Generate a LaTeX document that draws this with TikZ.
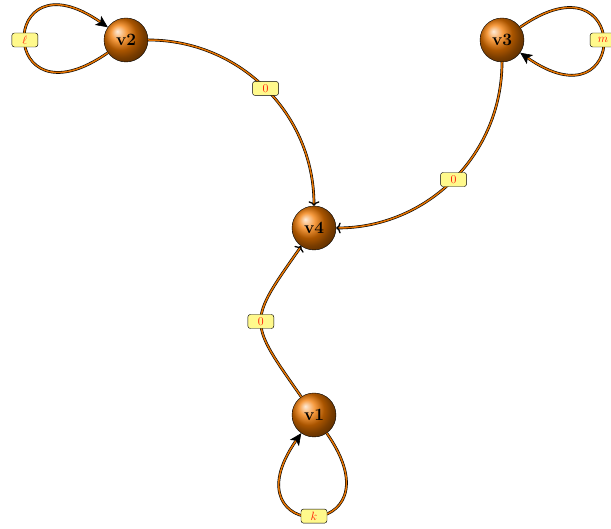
\documentclass[tikz,border=0pt]{standalone}
\usetikzlibrary{arrows.meta,shadings}
\begin{document}
\begin{tikzpicture}[x=1pt,y=1pt,
  vtx/.style={circle,draw=black,line width=0.4pt,ball color=orange!95!black,minimum size=44pt,inner sep=0pt,font=\LARGE\bfseries},
  lbl/.style={fill=yellow!45,draw=black,line width=0.45pt,rounded corners=2.5pt,text=red!85!orange,font=\large,minimum width=26pt,minimum height=14pt,inner sep=1.5pt},
  edg/.style={draw=black,line width=0.6pt,double=orange!90!black,double distance=1.5pt,-{To[length=4.5pt,width=11pt,line width=1.3pt,color=black]}},
  lp/.style={draw=black,line width=0.6pt,double=orange!90!black,double distance=1.5pt,-{Stealth[length=12pt,width=11pt,inset=3pt,color=black]}}]
\useasboundingbox (0,0) rectangle (611,529);
\node[vtx] (v1) at (314,114) {v1};
\node[vtx] (v2) at (126,489) {v2};
\node[vtx] (v3) at (502,489) {v3};
\node[vtx] (v4) at (314,301) {v4};
\draw[edg] (v2) to[out=0,in=90] node[lbl,pos=0.5] {0} (v4);
\draw[edg] (v3) to[out=-90,in=0] node[lbl,pos=0.5] {0} (v4);
\draw[edg] (v1) to[out=125,in=235,looseness=1.6] node[lbl,pos=0.5] {0} (v4);
\draw[lp] (v2.215) .. controls +(215:135) and +(145:135) .. node[lbl,pos=0.5] {$\ell$} (v2.145);
\draw[lp] (v3.35) .. controls +(35:135) and +(-35:135) .. node[lbl,pos=0.5] {$m$} (v3.-35);
\draw[lp] (v1.-55) .. controls +(-55:135) and +(235:135) .. node[lbl,pos=0.5] {$k$} (v1.235);
\end{tikzpicture}
\end{document}
